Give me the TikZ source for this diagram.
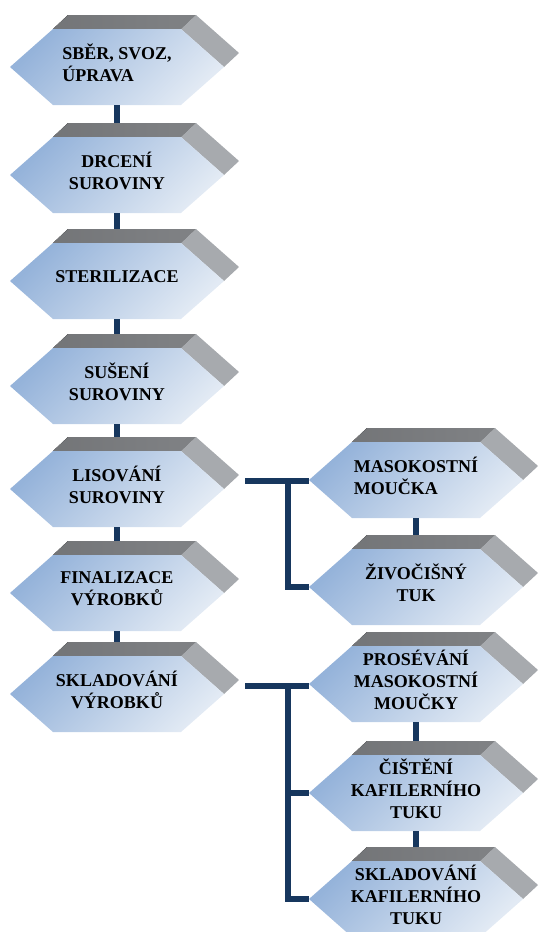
\documentclass[tikz,border=0pt]{standalone}
\usepackage{fontspec}
\setmainfont{Liberation Serif}
\usetikzlibrary{calc}

\definecolor{linkblue}{HTML}{17375E}
\definecolor{faceA}{HTML}{95B3DA}
\definecolor{faceB}{HTML}{E2EAF4}
\definecolor{topgray}{HTML}{808285}
\definecolor{sidegray}{HTML}{A7AAAE}

% one step of the process: front hexagon, top face and right face
\newcommand{\prismbox}[4]{%
  \coordinate (#1) at #2;
  \fill[topface] ($(#1)+(-64,-38)$) -- ($(#1)+(64,-38)$) --
    ($(#1)+(79,-52)$) -- ($(#1)+(-49,-52)$) -- cycle;
  \fill[sideface] ($(#1)+(64,-38)$) -- ($(#1)+(107,0)$) --
    ($(#1)+(122,-14)$) -- ($(#1)+(79,-52)$) -- cycle;
  \shade[frontface] ($(#1)+(-107,0)$) -- ($(#1)+(-64,-38)$) --
    ($(#1)+(64,-38)$) -- ($(#1)+(107,0)$) --
    ($(#1)+(64,38)$) -- ($(#1)+(-64,38)$) -- cycle;
  \node[steplabel,align=#3] (#1-t) at (#1) {#4};
  \coordinate (#1-n) at ($(#1)+(0,-52)$);
  \coordinate (#1-s) at ($(#1)+(0,38)$);
  \coordinate (#1-w) at ($(#1)+(-107,0)$);
  \coordinate (#1-e) at ($(#1)+(128,-8)$);
}

\begin{document}
\begin{tikzpicture}[x=1pt,y=-1pt,
  topface/.style={left color=topgray!90!black, right color=topgray},
  sideface/.style={fill=sidegray},
  frontface/.style={top color=faceA, bottom color=faceB, shading angle=45},
  steplabel/.style={inner sep=0pt, yshift=4pt,
    font=\fontsize{18}{22}\selectfont\bfseries, text=black},
  link/.style={draw=linkblue, line width=6pt}]
\path[use as bounding box, clip] (0,0) rectangle (541,932);

% Main line on the left
\prismbox{sber}{(117,67)}{left}{SBĚR, SVOZ,\\ÚPRAVA}
\prismbox{drceni}{(117,175)}{center}{DRCENÍ\\SUROVINY}
\prismbox{steril}{(117,281)}{center}{STERILIZACE}
\prismbox{suseni}{(117,386)}{center}{SUŠENÍ\\SUROVINY}
\prismbox{lis}{(117,489)}{center}{LISOVÁNÍ\\SUROVINY}
\prismbox{final}{(117,593)}{center}{FINALIZACE\\VÝROBKŮ}
\prismbox{sklad}{(117,694)}{center}{SKLADOVÁNÍ\\VÝROBKŮ}

% Products of the press
\prismbox{moucka}{(416,480)}{left}{MASOKOSTNÍ\\MOUČKA}
\prismbox{tuk}{(416,587)}{center}{ŽIVOČIŠNÝ\\TUK}

% Storage branch
\prismbox{proseva}{(416,684)}{center}{PROSÉVÁNÍ\\MASOKOSTNÍ\\MOUČKY}
\prismbox{cisteni}{(416,793)}{center}{ČIŠTĚNÍ\\KAFILERNÍHO\\TUKU}
\prismbox{skladtuk}{(416,899)}{center}{SKLADOVÁNÍ\\KAFILERNÍHO\\TUKU}

% Draw the links between the steps
\draw[link] (sber-s) -- (drceni-n);
\draw[link] (drceni-s) -- (steril-n);
\draw[link] (steril-s) -- (suseni-n);
\draw[link] (suseni-s) -- (lis-n);
\draw[link] (lis-s) -- (final-n);
\draw[link] (final-s) -- (sklad-n);
\draw[link] (moucka-s) -- (tuk-n);
\draw[link] (proseva-s) -- (cisteni-n);
\draw[link] (cisteni-s) -- (skladtuk-n);

% Forks to the right column
\coordinate (fork1) at ($(lis-e)+(43,0)$);
\coordinate (fork2) at ($(sklad-e)+(43,0)$);
\draw[link] (lis-e) -- (lis-e -| moucka-w);
\draw[link] (fork1) |- (tuk-w);
\draw[link] (sklad-e) -- (sklad-e -| proseva-w);
\draw[link] (fork2) |- (cisteni-w);
\draw[link] (fork2) |- (skladtuk-w);

\end{tikzpicture}
\end{document}
